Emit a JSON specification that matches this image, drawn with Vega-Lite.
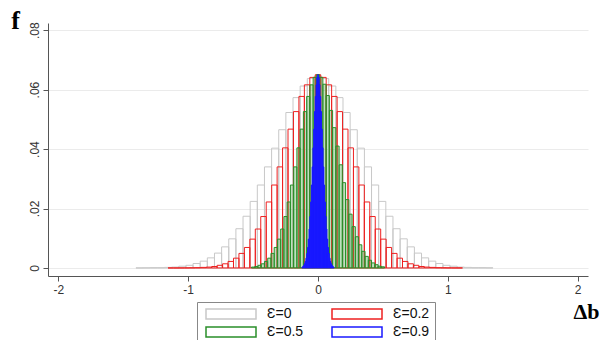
{
"$schema": "https://vega.github.io/schema/vega-lite/v6.json",
"width": 540, "height": 253,
"autosize": {"type": "none"},
"padding": {"left": 48, "top": 23, "right": 16, "bottom": 64},
"background": "white",
"config": {"view": {"stroke": null}, "font": "Liberation Sans"},
"data": {"values": [
{"s":"Ɛ=0","lo":-1.4025,"hi":-1.3475,"f":0.00003},
{"s":"Ɛ=0","lo":-1.3475,"hi":-1.2925,"f":0.00005},
{"s":"Ɛ=0","lo":-1.2925,"hi":-1.2375,"f":0.0001},
{"s":"Ɛ=0","lo":-1.2375,"hi":-1.1825,"f":0.0001},
{"s":"Ɛ=0","lo":-1.1825,"hi":-1.1275,"f":0.0002},
{"s":"Ɛ=0","lo":-1.1275,"hi":-1.0725,"f":0.0003},
{"s":"Ɛ=0","lo":-1.0725,"hi":-1.0175,"f":0.0006},
{"s":"Ɛ=0","lo":-1.0175,"hi":-0.9625,"f":0.0009},
{"s":"Ɛ=0","lo":-0.9625,"hi":-0.9075,"f":0.0015},
{"s":"Ɛ=0","lo":-0.9075,"hi":-0.8525,"f":0.0023},
{"s":"Ɛ=0","lo":-0.8525,"hi":-0.7975,"f":0.0034},
{"s":"Ɛ=0","lo":-0.7975,"hi":-0.7425,"f":0.0050},
{"s":"Ɛ=0","lo":-0.7425,"hi":-0.6875,"f":0.0071},
{"s":"Ɛ=0","lo":-0.6875,"hi":-0.6325,"f":0.0098},
{"s":"Ɛ=0","lo":-0.6325,"hi":-0.5775,"f":0.0132},
{"s":"Ɛ=0","lo":-0.5775,"hi":-0.5225,"f":0.0174},
{"s":"Ɛ=0","lo":-0.5225,"hi":-0.4675,"f":0.0224},
{"s":"Ɛ=0","lo":-0.4675,"hi":-0.4125,"f":0.0279},
{"s":"Ɛ=0","lo":-0.4125,"hi":-0.3575,"f":0.0340},
{"s":"Ɛ=0","lo":-0.3575,"hi":-0.3025,"f":0.0403},
{"s":"Ɛ=0","lo":-0.3025,"hi":-0.2475,"f":0.0465},
{"s":"Ɛ=0","lo":-0.2475,"hi":-0.1925,"f":0.0523},
{"s":"Ɛ=0","lo":-0.1925,"hi":-0.1375,"f":0.0573},
{"s":"Ɛ=0","lo":-0.1375,"hi":-0.0825,"f":0.0612},
{"s":"Ɛ=0","lo":-0.0825,"hi":-0.0275,"f":0.0637},
{"s":"Ɛ=0","lo":-0.0275,"hi":0.0275,"f":0.0645},
{"s":"Ɛ=0","lo":0.0275,"hi":0.0825,"f":0.0637},
{"s":"Ɛ=0","lo":0.0825,"hi":0.1375,"f":0.0612},
{"s":"Ɛ=0","lo":0.1375,"hi":0.1925,"f":0.0573},
{"s":"Ɛ=0","lo":0.1925,"hi":0.2475,"f":0.0523},
{"s":"Ɛ=0","lo":0.2475,"hi":0.3025,"f":0.0465},
{"s":"Ɛ=0","lo":0.3025,"hi":0.3575,"f":0.0403},
{"s":"Ɛ=0","lo":0.3575,"hi":0.4125,"f":0.0340},
{"s":"Ɛ=0","lo":0.4125,"hi":0.4675,"f":0.0279},
{"s":"Ɛ=0","lo":0.4675,"hi":0.5225,"f":0.0224},
{"s":"Ɛ=0","lo":0.5225,"hi":0.5775,"f":0.0174},
{"s":"Ɛ=0","lo":0.5775,"hi":0.6325,"f":0.0132},
{"s":"Ɛ=0","lo":0.6325,"hi":0.6875,"f":0.0098},
{"s":"Ɛ=0","lo":0.6875,"hi":0.7425,"f":0.0071},
{"s":"Ɛ=0","lo":0.7425,"hi":0.7975,"f":0.0050},
{"s":"Ɛ=0","lo":0.7975,"hi":0.8525,"f":0.0034},
{"s":"Ɛ=0","lo":0.8525,"hi":0.9075,"f":0.0023},
{"s":"Ɛ=0","lo":0.9075,"hi":0.9625,"f":0.0015},
{"s":"Ɛ=0","lo":0.9625,"hi":1.0175,"f":0.0009},
{"s":"Ɛ=0","lo":1.0175,"hi":1.0725,"f":0.0006},
{"s":"Ɛ=0","lo":1.0725,"hi":1.1275,"f":0.0003},
{"s":"Ɛ=0","lo":1.1275,"hi":1.1825,"f":0.0002},
{"s":"Ɛ=0","lo":1.1825,"hi":1.2375,"f":0.0001},
{"s":"Ɛ=0","lo":1.2375,"hi":1.2925,"f":0.0001},
{"s":"Ɛ=0","lo":1.2925,"hi":1.3475,"f":0.00005},
{"s":"Ɛ=0.2","lo":-1.155,"hi":-1.113,"f":0.00001},
{"s":"Ɛ=0.2","lo":-1.113,"hi":-1.071,"f":0.00001},
{"s":"Ɛ=0.2","lo":-1.071,"hi":-1.029,"f":0.00002},
{"s":"Ɛ=0.2","lo":-1.029,"hi":-0.987,"f":0.00003},
{"s":"Ɛ=0.2","lo":-0.987,"hi":-0.945,"f":0.00006},
{"s":"Ɛ=0.2","lo":-0.945,"hi":-0.903,"f":0.0001},
{"s":"Ɛ=0.2","lo":-0.903,"hi":-0.861,"f":0.0002},
{"s":"Ɛ=0.2","lo":-0.861,"hi":-0.819,"f":0.0003},
{"s":"Ɛ=0.2","lo":-0.819,"hi":-0.777,"f":0.0005},
{"s":"Ɛ=0.2","lo":-0.777,"hi":-0.735,"f":0.0009},
{"s":"Ɛ=0.2","lo":-0.735,"hi":-0.693,"f":0.0014},
{"s":"Ɛ=0.2","lo":-0.693,"hi":-0.651,"f":0.0022},
{"s":"Ɛ=0.2","lo":-0.651,"hi":-0.609,"f":0.0033},
{"s":"Ɛ=0.2","lo":-0.609,"hi":-0.567,"f":0.0049},
{"s":"Ɛ=0.2","lo":-0.567,"hi":-0.525,"f":0.0069},
{"s":"Ɛ=0.2","lo":-0.525,"hi":-0.483,"f":0.0097},
{"s":"Ɛ=0.2","lo":-0.483,"hi":-0.441,"f":0.0131},
{"s":"Ɛ=0.2","lo":-0.441,"hi":-0.399,"f":0.0173},
{"s":"Ɛ=0.2","lo":-0.399,"hi":-0.357,"f":0.0222},
{"s":"Ɛ=0.2","lo":-0.357,"hi":-0.315,"f":0.0279},
{"s":"Ɛ=0.2","lo":-0.315,"hi":-0.273,"f":0.0340},
{"s":"Ɛ=0.2","lo":-0.273,"hi":-0.231,"f":0.0404},
{"s":"Ɛ=0.2","lo":-0.231,"hi":-0.189,"f":0.0467},
{"s":"Ɛ=0.2","lo":-0.189,"hi":-0.147,"f":0.0526},
{"s":"Ɛ=0.2","lo":-0.147,"hi":-0.105,"f":0.0577},
{"s":"Ɛ=0.2","lo":-0.105,"hi":-0.063,"f":0.0616},
{"s":"Ɛ=0.2","lo":-0.063,"hi":-0.021,"f":0.0641},
{"s":"Ɛ=0.2","lo":-0.021,"hi":0.021,"f":0.0650},
{"s":"Ɛ=0.2","lo":0.021,"hi":0.063,"f":0.0641},
{"s":"Ɛ=0.2","lo":0.063,"hi":0.105,"f":0.0616},
{"s":"Ɛ=0.2","lo":0.105,"hi":0.147,"f":0.0577},
{"s":"Ɛ=0.2","lo":0.147,"hi":0.189,"f":0.0526},
{"s":"Ɛ=0.2","lo":0.189,"hi":0.231,"f":0.0467},
{"s":"Ɛ=0.2","lo":0.231,"hi":0.273,"f":0.0404},
{"s":"Ɛ=0.2","lo":0.273,"hi":0.315,"f":0.0340},
{"s":"Ɛ=0.2","lo":0.315,"hi":0.357,"f":0.0279},
{"s":"Ɛ=0.2","lo":0.357,"hi":0.399,"f":0.0222},
{"s":"Ɛ=0.2","lo":0.399,"hi":0.441,"f":0.0173},
{"s":"Ɛ=0.2","lo":0.441,"hi":0.483,"f":0.0131},
{"s":"Ɛ=0.2","lo":0.483,"hi":0.525,"f":0.0097},
{"s":"Ɛ=0.2","lo":0.525,"hi":0.567,"f":0.0069},
{"s":"Ɛ=0.2","lo":0.567,"hi":0.609,"f":0.0049},
{"s":"Ɛ=0.2","lo":0.609,"hi":0.651,"f":0.0033},
{"s":"Ɛ=0.2","lo":0.651,"hi":0.693,"f":0.0022},
{"s":"Ɛ=0.2","lo":0.693,"hi":0.735,"f":0.0014},
{"s":"Ɛ=0.2","lo":0.735,"hi":0.777,"f":0.0009},
{"s":"Ɛ=0.2","lo":0.777,"hi":0.819,"f":0.0005},
{"s":"Ɛ=0.2","lo":0.819,"hi":0.861,"f":0.0003},
{"s":"Ɛ=0.2","lo":0.861,"hi":0.903,"f":0.0002},
{"s":"Ɛ=0.2","lo":0.903,"hi":0.945,"f":0.0001},
{"s":"Ɛ=0.2","lo":0.945,"hi":0.987,"f":0.00006},
{"s":"Ɛ=0.2","lo":0.987,"hi":1.029,"f":0.00003},
{"s":"Ɛ=0.2","lo":1.029,"hi":1.071,"f":0.00002},
{"s":"Ɛ=0.2","lo":1.071,"hi":1.113,"f":0.00001},
{"s":"Ɛ=0.5","lo":-0.5125,"hi":-0.4875,"f":0.0003},
{"s":"Ɛ=0.5","lo":-0.4875,"hi":-0.4625,"f":0.0005},
{"s":"Ɛ=0.5","lo":-0.4625,"hi":-0.4375,"f":0.0009},
{"s":"Ɛ=0.5","lo":-0.4375,"hi":-0.4125,"f":0.0014},
{"s":"Ɛ=0.5","lo":-0.4125,"hi":-0.3875,"f":0.0022},
{"s":"Ɛ=0.5","lo":-0.3875,"hi":-0.3625,"f":0.0033},
{"s":"Ɛ=0.5","lo":-0.3625,"hi":-0.3375,"f":0.0049},
{"s":"Ɛ=0.5","lo":-0.3375,"hi":-0.3125,"f":0.0069},
{"s":"Ɛ=0.5","lo":-0.3125,"hi":-0.2875,"f":0.0097},
{"s":"Ɛ=0.5","lo":-0.2875,"hi":-0.2625,"f":0.0131},
{"s":"Ɛ=0.5","lo":-0.2625,"hi":-0.2375,"f":0.0173},
{"s":"Ɛ=0.5","lo":-0.2375,"hi":-0.2125,"f":0.0222},
{"s":"Ɛ=0.5","lo":-0.2125,"hi":-0.1875,"f":0.0279},
{"s":"Ɛ=0.5","lo":-0.1875,"hi":-0.1625,"f":0.0340},
{"s":"Ɛ=0.5","lo":-0.1625,"hi":-0.1375,"f":0.0404},
{"s":"Ɛ=0.5","lo":-0.1375,"hi":-0.1125,"f":0.0467},
{"s":"Ɛ=0.5","lo":-0.1125,"hi":-0.0875,"f":0.0526},
{"s":"Ɛ=0.5","lo":-0.0875,"hi":-0.0625,"f":0.0577},
{"s":"Ɛ=0.5","lo":-0.0625,"hi":-0.0375,"f":0.0616},
{"s":"Ɛ=0.5","lo":-0.0375,"hi":-0.0125,"f":0.0641},
{"s":"Ɛ=0.5","lo":-0.0125,"hi":0.0125,"f":0.0650},
{"s":"Ɛ=0.5","lo":0.0125,"hi":0.0375,"f":0.0641},
{"s":"Ɛ=0.5","lo":0.0375,"hi":0.0625,"f":0.0618},
{"s":"Ɛ=0.5","lo":0.0625,"hi":0.0875,"f":0.0580},
{"s":"Ɛ=0.5","lo":0.0875,"hi":0.1125,"f":0.0530},
{"s":"Ɛ=0.5","lo":0.1125,"hi":0.1375,"f":0.0472},
{"s":"Ɛ=0.5","lo":0.1375,"hi":0.1625,"f":0.0410},
{"s":"Ɛ=0.5","lo":0.1625,"hi":0.1875,"f":0.0347},
{"s":"Ɛ=0.5","lo":0.1875,"hi":0.2125,"f":0.0287},
{"s":"Ɛ=0.5","lo":0.2125,"hi":0.2375,"f":0.0230},
{"s":"Ɛ=0.5","lo":0.2375,"hi":0.2625,"f":0.0181},
{"s":"Ɛ=0.5","lo":0.2625,"hi":0.2875,"f":0.0139},
{"s":"Ɛ=0.5","lo":0.2875,"hi":0.3125,"f":0.0105},
{"s":"Ɛ=0.5","lo":0.3125,"hi":0.3375,"f":0.0078},
{"s":"Ɛ=0.5","lo":0.3375,"hi":0.3625,"f":0.0056},
{"s":"Ɛ=0.5","lo":0.3625,"hi":0.3875,"f":0.0039},
{"s":"Ɛ=0.5","lo":0.3875,"hi":0.4125,"f":0.0026},
{"s":"Ɛ=0.5","lo":0.4125,"hi":0.4375,"f":0.0017},
{"s":"Ɛ=0.5","lo":0.4375,"hi":0.4625,"f":0.0011},
{"s":"Ɛ=0.5","lo":0.4625,"hi":0.4875,"f":0.0006},
{"s":"Ɛ=0.5","lo":0.4875,"hi":0.5125,"f":0.0004},
{"s":"Ɛ=0.9","lo":-0.123,"hi":-0.117,"f":0.0003},
{"s":"Ɛ=0.9","lo":-0.117,"hi":-0.111,"f":0.0005},
{"s":"Ɛ=0.9","lo":-0.111,"hi":-0.105,"f":0.0009},
{"s":"Ɛ=0.9","lo":-0.105,"hi":-0.099,"f":0.0014},
{"s":"Ɛ=0.9","lo":-0.099,"hi":-0.093,"f":0.0022},
{"s":"Ɛ=0.9","lo":-0.093,"hi":-0.087,"f":0.0033},
{"s":"Ɛ=0.9","lo":-0.087,"hi":-0.081,"f":0.0049},
{"s":"Ɛ=0.9","lo":-0.081,"hi":-0.075,"f":0.0069},
{"s":"Ɛ=0.9","lo":-0.075,"hi":-0.069,"f":0.0097},
{"s":"Ɛ=0.9","lo":-0.069,"hi":-0.063,"f":0.0131},
{"s":"Ɛ=0.9","lo":-0.063,"hi":-0.057,"f":0.0173},
{"s":"Ɛ=0.9","lo":-0.057,"hi":-0.051,"f":0.0222},
{"s":"Ɛ=0.9","lo":-0.051,"hi":-0.045,"f":0.0279},
{"s":"Ɛ=0.9","lo":-0.045,"hi":-0.039,"f":0.0340},
{"s":"Ɛ=0.9","lo":-0.039,"hi":-0.033,"f":0.0404},
{"s":"Ɛ=0.9","lo":-0.033,"hi":-0.027,"f":0.0467},
{"s":"Ɛ=0.9","lo":-0.027,"hi":-0.021,"f":0.0526},
{"s":"Ɛ=0.9","lo":-0.021,"hi":-0.015,"f":0.0577},
{"s":"Ɛ=0.9","lo":-0.015,"hi":-0.009,"f":0.0616},
{"s":"Ɛ=0.9","lo":-0.009,"hi":-0.003,"f":0.0641},
{"s":"Ɛ=0.9","lo":-0.003,"hi":0.003,"f":0.0650},
{"s":"Ɛ=0.9","lo":0.003,"hi":0.009,"f":0.0641},
{"s":"Ɛ=0.9","lo":0.009,"hi":0.015,"f":0.0616},
{"s":"Ɛ=0.9","lo":0.015,"hi":0.021,"f":0.0577},
{"s":"Ɛ=0.9","lo":0.021,"hi":0.027,"f":0.0526},
{"s":"Ɛ=0.9","lo":0.027,"hi":0.033,"f":0.0467},
{"s":"Ɛ=0.9","lo":0.033,"hi":0.039,"f":0.0404},
{"s":"Ɛ=0.9","lo":0.039,"hi":0.045,"f":0.0340},
{"s":"Ɛ=0.9","lo":0.045,"hi":0.051,"f":0.0279},
{"s":"Ɛ=0.9","lo":0.051,"hi":0.057,"f":0.0222},
{"s":"Ɛ=0.9","lo":0.057,"hi":0.063,"f":0.0173},
{"s":"Ɛ=0.9","lo":0.063,"hi":0.069,"f":0.0131},
{"s":"Ɛ=0.9","lo":0.069,"hi":0.075,"f":0.0097},
{"s":"Ɛ=0.9","lo":0.075,"hi":0.081,"f":0.0069},
{"s":"Ɛ=0.9","lo":0.081,"hi":0.087,"f":0.0049},
{"s":"Ɛ=0.9","lo":0.087,"hi":0.093,"f":0.0033},
{"s":"Ɛ=0.9","lo":0.093,"hi":0.099,"f":0.0022},
{"s":"Ɛ=0.9","lo":0.099,"hi":0.105,"f":0.0014},
{"s":"Ɛ=0.9","lo":0.105,"hi":0.111,"f":0.0009},
{"s":"Ɛ=0.9","lo":0.111,"hi":0.117,"f":0.0005},
{"s":"Ɛ=0.9","lo":0.117,"hi":0.123,"f":0.0003}
]},
"mark": {"type": "bar", "strokeWidth": 1},
"encoding": {
  "x": {"field": "lo", "type": "quantitative",
    "scale": {"domain": [-2.08, 2.08], "nice": false, "zero": false},
    "axis": {"values": [-2, -1, 0, 1, 2], "labelExpr": "'' + datum.value", "grid": false,
      "tickSize": 5, "labelPadding": 3, "labelFontSize": 12, "labelColor": "#333",
      "domainColor": "#555", "tickColor": "#555", "labelFont": "Liberation Sans",
      "title": "Δb", "titleFont": "Liberation Serif", "titleFontWeight": "bold", "titleFontSize": 22,
      "titleColor": "#000", "titleX": 525, "titleY": 42, "titleAlign": "left", "titleBaseline": "alphabetic"}},
  "x2": {"field": "hi"},
  "y": {"field": "f", "type": "quantitative", "stack": null,
    "scale": {"domain": [-0.0027, 0.0824], "nice": false, "zero": false},
    "axis": {"values": [0, 0.02, 0.04, 0.06, 0.08],
      "labelExpr": "datum.value == 0 ? '0' : replace(format(datum.value, '.2f'), '0.', '.')",
      "labelAngle": -90, "labelAlign": "center", "labelBaseline": "bottom", "labelPadding": 2,
      "tickSize": 5, "labelFontSize": 12, "labelColor": "#333", "labelFont": "Liberation Sans",
      "grid": true, "gridColor": "#ebebeb", "domainColor": "#555", "tickColor": "#555",
      "title": "f", "titleAngle": 0, "titleFont": "Liberation Serif", "titleFontWeight": "bold",
      "titleFontSize": 26, "titleColor": "#000", "titleX": -33, "titleY": 5,
      "titleAlign": "center", "titleBaseline": "alphabetic"}},
  "y2": {"datum": 0},
  "stroke": {"field": "s", "type": "nominal",
    "scale": {"domain": ["Ɛ=0", "Ɛ=0.5", "Ɛ=0.2", "Ɛ=0.9"], "range": ["#c8c8c8", "#2a8f2a", "#ee2020", "#1a1aff"]},
    "legend": {"title": null, "orient": "none", "legendX": 149, "legendY": 279, "columns": 2,
      "columnPadding": 24, "rowPadding": 2, "symbolType": "M-5,-1H5V1H-5Z", "symbolSize": 100,
      "symbolOffset": 22, "labelOffset": 29, "symbolStrokeWidth": 1.5, "symbolFillColor": "white",
      "labelExpr": "(datum.label == 'Ɛ=0.2' || datum.label == 'Ɛ=0.9') ? datum.label + '\u00a0\u00a0\u00a0\u00a0\u00a0\u00a0\u00a0\u00a0\u00a0' : datum.label",
      "labelFont": "Liberation Sans", "labelFontSize": 14, "labelColor": "#111",
      "strokeColor": "#888", "fillColor": "white", "padding": 5,
      "encode": {"symbols": {"update": {"fill": {"value": "white"}, "fillOpacity": {"value": 1}}}}}},
  "fill": {"condition": [
      {"test": "datum.s == 'Ɛ=0.9'", "value": "#0000ff"},
      {"test": "datum.s == 'Ɛ=0.5'", "value": "rgba(70,170,70,0.35)"}],
    "value": "transparent"}
}
}
